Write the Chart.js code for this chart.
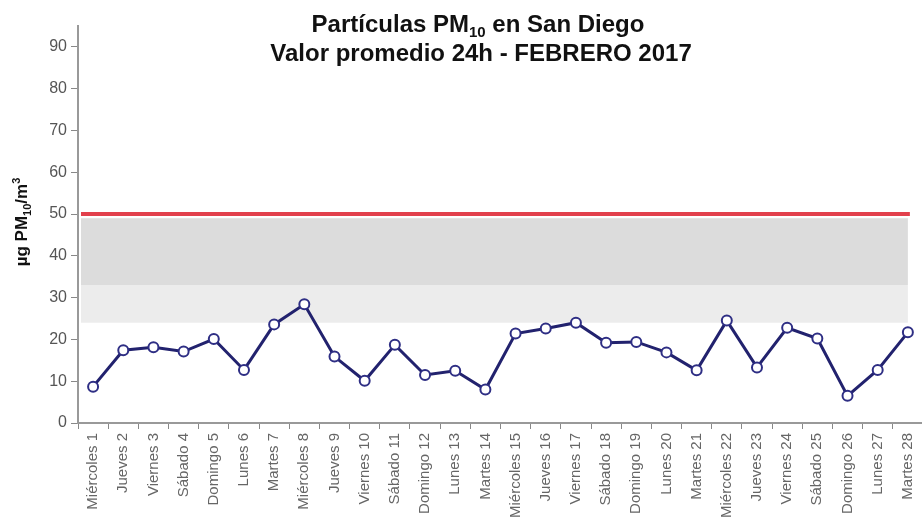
<!DOCTYPE html>
<html><head><meta charset="utf-8">
<script src="https://cdn.jsdelivr.net/npm/chart.js@4/dist/chart.umd.min.js"></script>
<style>html,body{margin:0;padding:0;overflow:hidden;background:#fff}#wrap{position:relative;width:930px;height:531px}</style>
</head><body><div id="wrap"><canvas id="c"></canvas></div>
<script>
const categories = ["Miércoles 1","Jueves 2","Viernes 3","Sábado 4","Domingo 5","Lunes 6","Martes 7","Miércoles 8","Jueves 9","Viernes 10","Sábado 11","Domingo 12","Lunes 13","Martes 14","Miércoles 15","Jueves 16","Viernes 17","Sábado 18","Domingo 19","Lunes 20","Martes 21","Miércoles 22","Jueves 23","Viernes 24","Sábado 25","Domingo 26","Lunes 27","Martes 28"];
const pm10Values = [8.7,17.4,18.1,17.1,20.1,12.7,23.6,28.4,15.9,10.1,18.7,11.5,12.5,8.0,21.4,22.6,24.0,19.2,19.4,16.9,12.6,24.5,13.3,22.8,20.2,6.5,12.7,21.7];
const yTicks = [0,10,20,30,40,50,60,70,80,90];
const limitValue = 50;
const darkBand = [33, 49];
const lightBand = [24, 33];

const FONT = '"Liberation Sans", Arial, sans-serif';

const decor = {
  id: 'decor',
  beforeDatasetsDraw(chart) {
    const {ctx, chartArea, scales} = chart;
    const y = scales.y, x = scales.x;
    const left = chartArea.left + 3;
    const right = x.getPixelForValue(categories.length - 1);
    ctx.save();
    ctx.fillStyle = '#dcdcdc';
    ctx.fillRect(left, y.getPixelForValue(darkBand[1]), right - left, y.getPixelForValue(darkBand[0]) - y.getPixelForValue(darkBand[1]));
    ctx.fillStyle = '#ececec';
    ctx.fillRect(left, y.getPixelForValue(lightBand[1]), right - left, y.getPixelForValue(lightBand[0]) - y.getPixelForValue(lightBand[1]));
    ctx.strokeStyle = '#e2404c';
    ctx.lineWidth = 4;
    ctx.beginPath();
    const ly = y.getPixelForValue(limitValue);
    ctx.moveTo(left, ly); ctx.lineTo(right + 2, ly);
    ctx.stroke();
    ctx.restore();
  },
  afterDraw(chart) {
    const ctx = chart.ctx;
    ctx.save();
    ctx.fillStyle = '#111';
    ctx.textBaseline = 'alphabetic';
    const big = 'bold 24px ' + FONT;
    const small = 'bold 15px ' + FONT;
    const parts = [['Partículas PM', big, 0], ['10', small, 5], [' en San Diego', big, 0]];
    let w = 0;
    parts.forEach(p => { ctx.font = p[1]; w += ctx.measureText(p[0]).width; });
    let cx = 478 - w / 2;
    parts.forEach(p => { ctx.font = p[1]; ctx.fillText(p[0], cx, 32 + p[2]); cx += ctx.measureText(p[0]).width; });
    ctx.font = big;
    ctx.textAlign = 'center';
    ctx.fillText('Valor promedio 24h - FEBRERO 2017', 481, 61);
    // Y title rotated
    ctx.translate(27, 222);
    ctx.rotate(-Math.PI / 2);
    const yb = 'bold 17px ' + FONT;
    const ys = 'bold 11px ' + FONT;
    const yparts = [['µg PM', yb, 0], ['10', ys, 4], ['/m', yb, 0], ['3', ys, -7]];
    let yw = 0;
    yparts.forEach(p => { ctx.font = p[1]; yw += ctx.measureText(p[0]).width; });
    ctx.textAlign = 'left';
    let yx = -yw / 2;
    yparts.forEach(p => { ctx.font = p[1]; ctx.fillText(p[0], yx, p[2]); yx += ctx.measureText(p[0]).width; });
    ctx.restore();
  }
};

new Chart(document.getElementById('c'), {
  type: 'line',
  data: {
    labels: categories,
    datasets: [{
      data: pm10Values,
      borderColor: '#22226e',
      borderWidth: 3,
      pointRadius: 5,
      pointBorderWidth: 2,
      pointBackgroundColor: '#ffffff',
      pointBorderColor: '#2e2e84',
      tension: 0
    }]
  },
  options: {
    responsive: true,
    maintainAspectRatio: false,
    animation: false,
    layout: { padding: { top: 26, left: 0, right: 0, bottom: 0 } },
    plugins: { legend: { display: false }, title: { display: false }, tooltip: { enabled: false } },
    scales: {
      x: {
        offset: true,
        grid: { display: true, drawOnChartArea: false, offset: true, tickLength: 6, color: '#888', lineWidth: 1 },
        border: { display: true, color: '#999', width: 2 },
        ticks: { maxRotation: 90, minRotation: 90, autoSkip: false, color: '#666', font: { size: 15, family: FONT }, padding: 4 },
        afterFit(s) { s.height = 108; }
      },
      y: {
        min: 0, max: 95,
        grid: { display: true, drawOnChartArea: false, tickLength: 7, color: '#888' },
        border: { display: true, color: '#999', width: 2 },
        ticks: { stepSize: 10, color: '#555', font: { size: 16, family: FONT }, padding: 4 },
        afterBuildTicks(s) { s.ticks = yTicks.map(v => ({ value: v })); },
        afterFit(s) { s.width = 78; }
      }
    }
  },
  plugins: [decor]
});
</script></body></html>
